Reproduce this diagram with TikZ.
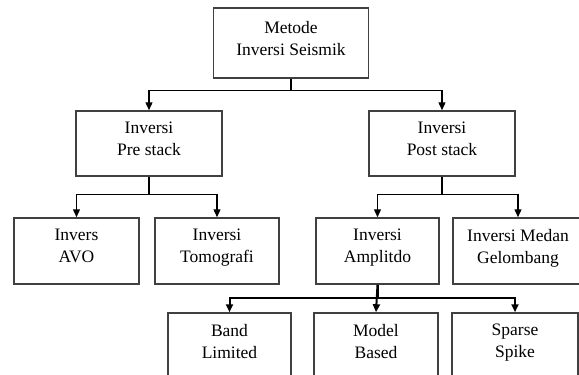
\documentclass[tikz,border=0pt]{standalone}
\usepackage{fontspec}
\setmainfont{Liberation Serif}
\usetikzlibrary{arrows.meta}

\begin{document}
\begin{tikzpicture}[x=1pt,y=-1pt,>={Triangle[length=8pt,width=7pt]},
  font=\fontsize{17.5}{22}\selectfont,
  box/.style={draw=black!75,line width=1.5pt,align=center,inner sep=0pt,
    execute at end node={\rule[-10pt]{0pt}{0pt}}},
  link/.style={line width=1.3pt}]
 \useasboundingbox (0,0) rectangle (579,375);
 \node[box,minimum width=155,minimum height=70] (root) at (291,43) {Metode\\Inversi Seismik};
 \node[box,minimum width=146,minimum height=65] (pre) at (149,143.5) {Inversi\\Pre stack};
 \node[box,minimum width=146,minimum height=65] (post) at (442,143.5) {Inversi\\Post stack};
 \node[box,minimum width=125,minimum height=66] (avo) at (76.5,251) {Invers\\AVO};
 \node[box,minimum width=124,minimum height=66] (tomo) at (217,251) {Inversi\\Tomografi};
 \node[box,minimum width=123,minimum height=66] (ampl) at (377.5,251) {Inversi\\Amplitdo};
 \node[box,minimum width=130,minimum height=66] (medan) at (518,251) {Inversi Medan\\Gelombang};
 \node[box,minimum width=123,minimum height=66] (band) at (229.5,346) {Band\\Limited};
 \node[box,minimum width=124,minimum height=66] (model) at (376,346) {Model\\Based};
 \node[box,minimum width=126,minimum height=66] (sparse) at (515,346) {Sparse\\Spike};
 \draw[link,->] (root.south) -- ++(0,12) -| (pre.north);
 \draw[link,->] (root.south) -- ++(0,12) -| (post.north);
 \draw[link,->] (pre.south) -- ++(0,18) -| (avo.north);
 \draw[link,->] (pre.south) -- ++(0,18) -| (tomo.north);
 \draw[link,->] (post.south) -- ++(0,18) -| (ampl.north);
 \draw[link,->] (post.south) -- ++(0,18) -| (medan.north);
 \draw[link,line width=2pt,->] (ampl.south) -- ++(0,13) -| (band.north);
 \draw[link,line width=2pt,->] (ampl.south) -- (model.north);
 \draw[link,line width=2pt,->] (ampl.south) -- ++(0,13) -| (sparse.north);
\end{tikzpicture}
\end{document}
